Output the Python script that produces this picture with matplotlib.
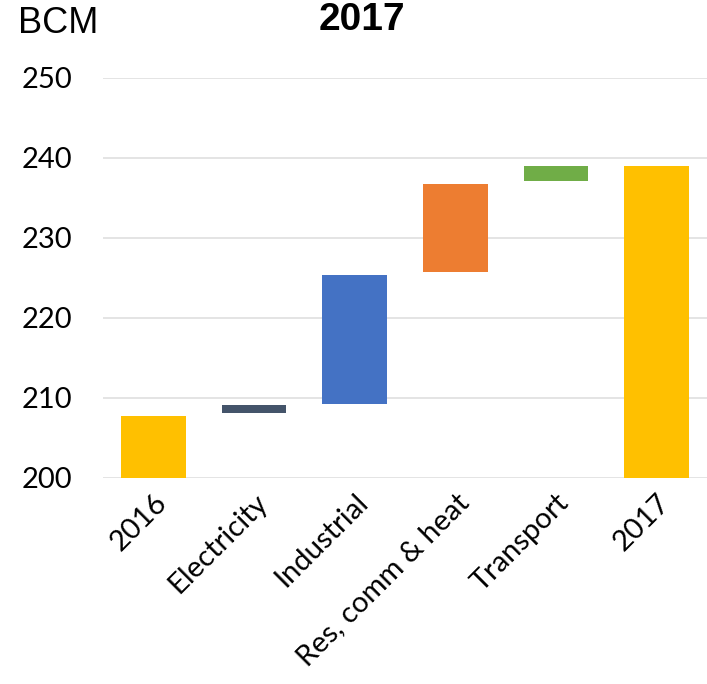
import matplotlib.pyplot as plt
import numpy as np

categories = ["2016", "Electricity", "Industrial", "Res, comm & heat", "Transport", "2017"]
bar_bottom = [200.0, 208.1, 209.3, 225.7, 237.1, 200.0]
bar_top = [207.8, 209.1, 225.4, 236.8, 239.0, 239.0]
colors = ["#FFC000", "#44546A", "#4472C4", "#ED7D31", "#70AD47", "#FFC000"]
y_ticks = [200, 210, 220, 230, 240, 250]

fig = plt.figure(figsize=(7.07, 6.84), dpi=100)
ax = fig.add_axes([103 / 707, 1 - 478 / 684, 604 / 707, 400 / 684])

x = np.arange(len(categories))
heights = np.array(bar_top) - np.array(bar_bottom)
ax.bar(x, heights, bottom=bar_bottom, width=0.64, color=colors, zorder=3)

ax.set_xlim(-0.5, len(categories) - 0.5)
ax.set_ylim(200, 250)
ax.set_yticks(y_ticks)
ax.yaxis.grid(True, color="#e2e2e2", linewidth=1.3, zorder=0)
ax.set_axisbelow(True)
for s in ax.spines.values():
    s.set_visible(False)

ax.set_xticks(x)
ax.set_xticklabels(categories, rotation=45, ha="right", rotation_mode="anchor",
                   fontsize=21, family="Lato")
for lbl in ax.get_yticklabels():
    lbl.set_fontsize(21)
    lbl.set_family("Lato")
ax.tick_params(axis="y", length=0, pad=22)
ax.tick_params(axis="x", length=0, pad=8)

fig.text(18 / 707, 1 - 6 / 684, "BCM", fontsize=26, family="Liberation Sans",
         ha="left", va="top")
fig.text(362 / 707, 1 - 2 / 684, "2017", fontsize=28, fontweight="bold",
         family="Liberation Sans", ha="center", va="top")

fig.savefig("out.png", dpi=100)
